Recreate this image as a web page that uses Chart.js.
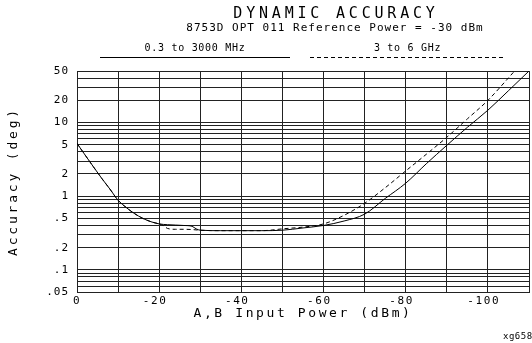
<!DOCTYPE html>
<html>
<head>
<meta charset="utf-8">
<script src="https://cdn.jsdelivr.net/npm/chart.js@4/dist/chart.umd.min.js"></script>
<style>
  html, body { margin: 0; padding: 0; background: #fff; overflow: hidden; }
  canvas { display: block; }
</style>
</head>
<body>
<canvas id="chart" width="532" height="343"></canvas>
<script>
// Series names (frequency bands)
const seriesNames = ['0.3 to 3000 MHz', '3 to 6 GHz'];

// 0.3 to 3000 MHz band: input power (dBm) and phase accuracy (deg)
const lowBandPower    = [0, -2, -4, -6, -8, -10, -12, -14, -16, -18, -20, -22, -24, -26, -28, -29, -30, -35, -40, -45, -50, -55, -60, -65, -70, -75, -80, -85, -90, -95, -100, -105, -110];
const lowBandAccuracy = [5.2, 3.6, 2.5, 1.75, 1.25, 0.88, 0.7, 0.58, 0.5, 0.45, 0.42, 0.41, 0.405, 0.4, 0.39, 0.36, 0.345, 0.34, 0.34, 0.34, 0.345, 0.37, 0.4, 0.46, 0.57, 0.93, 1.5, 2.75, 4.9, 8.6, 14.7, 27, 50];

// 3 to 6 GHz band: input power (dBm) and phase accuracy (deg)
const highBandPower    = [0, -2, -4, -6, -8, -10, -12, -14, -16, -18, -20, -21, -22, -24, -26, -28, -30, -35, -40, -45, -47, -50, -55, -60, -65, -70, -75, -80, -85, -90, -95, -100, -106.5];
const highBandAccuracy = [5.2, 3.6, 2.5, 1.75, 1.25, 0.88, 0.7, 0.58, 0.5, 0.45, 0.42, 0.4, 0.365, 0.355, 0.355, 0.352, 0.345, 0.34, 0.34, 0.34, 0.345, 0.36, 0.38, 0.42, 0.55, 0.8, 1.3, 2.2, 3.7, 6.3, 11.2, 20, 50];

// X axis: grid every 10 dBm, labels every 20 dBm
const powerTicks      = [0, -10, -20, -30, -40, -50, -60, -70, -80, -90, -100, -110];
const powerTickLabels = ['0', '', '-20', '', '-40', '', '-60', '', '-80', '', '-100', ''];

// Y axis: logarithmic grid and labelled decades
const accuracyGrid = [0.05, 0.06, 0.07, 0.08, 0.09, 0.1, 0.2, 0.3, 0.4, 0.5, 0.6, 0.7, 0.8, 0.9,
                      1, 2, 3, 4, 5, 6, 7, 8, 9, 10, 20, 30, 40, 50];
const accuracyTickValues = [50, 20, 10, 5, 2, 1, 0.5, 0.2, 0.1, 0.05];
const accuracyTickLabels = ['50', '20', '10', '5', '2', '1', '.5', '.2', '.1', '.05'];

const plotterFont = "'DejaVu Sans Mono', 'Liberation Mono', monospace";
const ink = '#000';
const gridInk = '#222';

const toPoints = (xs, ys) => xs.map((x, i) => ({ x: x, y: ys[i] }));

// Negative power labels are centred on their digits, so the minus sign hangs to the left
const powerLabel = v => {
  const i = powerTicks.indexOf(v);
  if (i < 0 || !powerTickLabels[i]) return '';
  const s = powerTickLabels[i];
  return s.startsWith('-') ? s + ' ' : s;
};

// Letter spacing for text drawn by the scales (plotter-style wide lettering)
const scaleSpacing = { x: { title: '2.6px', labels: '1.6px' }, y: { title: '2.8px', labels: '1px' } };

const spacedScaleText = {
  id: 'spacedScaleText',
  beforeDraw(chart) {
    Object.values(chart.scales).forEach(scale => {
      if (scale.$spaced) return;
      const sp = scaleSpacing[scale.id];
      const origTitle = scale.drawTitle;
      const origLabels = scale.drawLabels;
      scale.drawTitle = function (...args) {
        const c = this.ctx; c.save(); c.letterSpacing = sp.title; origTitle.apply(this, args); c.restore();
      };
      scale.drawLabels = function (...args) {
        const c = this.ctx; c.save(); c.letterSpacing = sp.labels; origLabels.apply(this, args); c.restore();
      };
      scale.$spaced = true;
    });
  }
};

// Headings, band key (text over a solid / dashed rule) and figure code
const headings = {
  id: 'headings',
  afterDraw(chart, args, opts) {
    const ctx = chart.ctx;
    ctx.save();
    ctx.fillStyle = ink;
    ctx.textBaseline = 'middle';
    ctx.textAlign = 'center';

    opts.lines.forEach(line => {
      ctx.font = line.size + 'px ' + plotterFont;
      ctx.letterSpacing = line.spacing;
      ctx.fillText(line.text, line.x, line.y);
    });

    chart.data.datasets.forEach((ds, i) => {
      const seg = opts.key[i];
      ctx.strokeStyle = ink;
      ctx.lineWidth = 1;
      ctx.setLineDash(ds.borderDash || []);
      ctx.beginPath();
      ctx.moveTo(seg.x1, opts.keyRuleY + 0.5);
      ctx.lineTo(seg.x2, opts.keyRuleY + 0.5);
      ctx.stroke();
      ctx.setLineDash([]);
      ctx.font = opts.keySize + 'px ' + plotterFont;
      ctx.letterSpacing = opts.keySpacing;
      ctx.fillText(ds.label, (seg.x1 + seg.x2) / 2, opts.keyTextY);
    });

    ctx.textAlign = 'left';
    ctx.font = opts.codeSize + 'px ' + plotterFont;
    ctx.letterSpacing = '0.5px';
    ctx.fillText(opts.code, opts.codeX, opts.codeY);
    ctx.restore();
  }
};

new Chart(document.getElementById('chart'), {
  type: 'line',
  data: {
    datasets: [
      {
        label: seriesNames[0],
        data: toPoints(lowBandPower, lowBandAccuracy),
        borderColor: ink, borderWidth: 1, pointRadius: 0,
        cubicInterpolationMode: 'monotone', fill: false
      },
      {
        label: seriesNames[1],
        data: toPoints(highBandPower, highBandAccuracy),
        borderColor: ink, borderWidth: 1, pointRadius: 0,
        borderDash: [4, 3],
        cubicInterpolationMode: 'monotone', fill: false
      }
    ]
  },
  options: {
    responsive: false,
    animation: false,
    devicePixelRatio: 1,
    events: [],
    layout: { padding: { top: 71, left: 0, right: 0, bottom: 0 } },
    plugins: {
      legend: { display: false },
      tooltip: { enabled: false },
      title: { display: false },
      headings: {
        lines: [
          { text: 'DYNAMIC ACCURACY', x: 336, y: 14, size: 15, spacing: '3.8px' },
          { text: '8753D OPT 011 Reference Power = -30 dBm', x: 335, y: 28, size: 11, spacing: '1px' }
        ],
        key: [ { x1: 100, x2: 290 }, { x1: 310, x2: 505 } ],
        keyRuleY: 57,
        keyTextY: 48,
        keySize: 10,
        keySpacing: '0.7px',
        code: 'xg658',
        codeX: 503,
        codeY: 337,
        codeSize: 9
      }
    },
    scales: {
      x: {
        type: 'linear',
        reverse: true,
        min: -110,
        max: 0,
        afterBuildTicks: s => { s.ticks = powerTicks.map(v => ({ value: v })); },
        afterFit: s => { s.height = 51; },
        grid: { color: gridInk, lineWidth: 1, drawTicks: false },
        border: { color: gridInk, width: 1 },
        ticks: {
          autoSkip: false, maxRotation: 0, padding: 3, color: ink,
          font: { family: plotterFont, size: 11 },
          callback: powerLabel
        },
        title: {
          display: true, text: 'A,B Input Power (dBm)', color: ink,
          font: { family: plotterFont, size: 13 },
          padding: { top: 0, bottom: 22 }
        }
      },
      y: {
        type: 'logarithmic',
        min: 0.05,
        max: 50,
        afterBuildTicks: s => { s.ticks = accuracyGrid.map(v => ({ value: v })); },
        afterFit: s => { s.width = 77; },
        grid: { color: gridInk, lineWidth: 1, drawTicks: false },
        border: { color: gridInk, width: 1 },
        ticks: {
          autoSkip: false, padding: 8, color: ink,
          font: { family: plotterFont, size: 11 },
          callback: v => { const i = accuracyTickValues.indexOf(v); return i < 0 ? '' : accuracyTickLabels[i]; }
        },
        title: {
          display: true, text: 'Accuracy (deg)', color: ink,
          font: { family: plotterFont, size: 13 },
          padding: { top: 6, bottom: 0 }
        }
      }
    }
  },
  plugins: [spacedScaleText, headings]
});
</script>
</body>
</html>
